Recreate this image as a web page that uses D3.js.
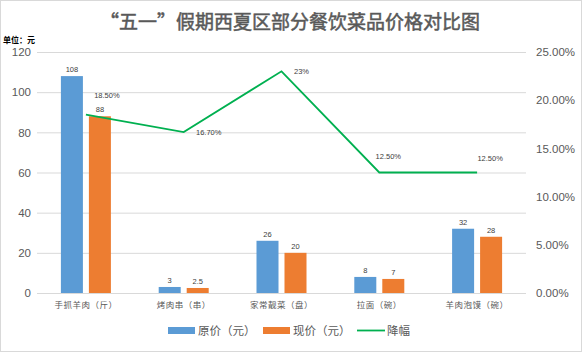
<!DOCTYPE html>
<html><head><meta charset="utf-8">
<script src="https://cdn.jsdelivr.net/npm/d3@7/dist/d3.min.js"></script>
<style>body{margin:0;background:#fff}svg{display:block}</style>
</head><body>
<script>
const categories = ["手抓羊肉（斤）","烤肉串（串）","家常靓菜（盘）","拉面（碗）","羊肉泡馍（碗）"];
const originalPrice = [108, 3, 26, 8, 32];
const currentPrice = [88, 2.5, 20, 7, 28];
const dropRate = [0.185, 0.167, 0.23, 0.125, 0.125];
const dropLabels = ["18.50%","16.70%","23%","12.50%","12.50%"];
const seriesNames = ["原价（元）","现价（元）","降幅"];
const leftTicks = [0,20,40,60,80,100,120];
const rightTicks = [0,0.05,0.10,0.15,0.20,0.25];

const W=582,H=352;
const svg=d3.select("body").append("svg").attr("width",W).attr("height",H);
svg.append("rect").attr("x",0.5).attr("y",0.5).attr("width",W-1).attr("height",H-1).attr("fill","#fff").attr("stroke","#d9d9d9");

const cjk='"Noto Sans CJK SC","Noto Sans",sans-serif';
const num='"Liberation Sans",Arial,sans-serif';
const plot={l:37,r:526,t:52,b:293};
const x=d3.scaleBand().domain(categories).range([plot.l,plot.r]).paddingInner(0).paddingOuter(0);
const yL=d3.scaleLinear().domain([0,120]).range([plot.b,plot.t]);
const yR=d3.scaleLinear().domain([0,0.25]).range([plot.b,plot.t]);
const bw=x.bandwidth();
const xs=d3.scaleBand().domain([0,1]).range([bw/2-25,bw/2+25]).paddingInner(0.214).paddingOuter(0);

// title
svg.append("text").attr("x",290).attr("y",29).attr("text-anchor","middle")
  .attr("font-family",cjk).attr("font-size",19).attr("font-weight","normal").attr("fill","#595959")
  .attr("stroke","#595959").attr("stroke-width",0.5)
  .text("“五一”假期西夏区部分餐饮菜品价格对比图");
svg.append("text").attr("x",3).attr("y",43).attr("font-family",cjk).attr("font-size",8).attr("font-weight","bold").attr("fill","#000").text("单位：元");

// gridlines
svg.append("g").selectAll("line").data(leftTicks).join("line")
  .attr("x1",plot.l).attr("x2",plot.r).attr("y1",d=>yL(d)+0.5).attr("y2",d=>yL(d)+0.5)
  .attr("stroke","#d9d9d9").attr("stroke-width",1);

// left axis
const gl=svg.append("g").attr("transform",`translate(${plot.l-6},0)`)
  .call(d3.axisLeft(yL).tickValues(leftTicks).tickSize(0).tickPadding(0));
gl.select(".domain").remove();
gl.selectAll("text").attr("font-family",num).attr("font-size",11.5).attr("fill","#595959");
// right axis
const gr=svg.append("g").attr("transform",`translate(${plot.r+10},0)`)
  .call(d3.axisRight(yR).tickValues(rightTicks).tickSize(0).tickPadding(0).tickFormat(d3.format(".2%")));
gr.select(".domain").remove();
gr.selectAll("text").attr("font-family",num).attr("font-size",11.5).attr("fill","#595959");

// category labels
svg.append("g").selectAll("text").data(categories).join("text")
  .attr("x",d=>x(d)+bw/2).attr("y",308).attr("text-anchor","middle")
  .attr("font-family",cjk).attr("font-size",8.5).attr("fill","#595959").attr("letter-spacing",0.5).text(d=>d);

const colors=["#5B9BD5","#ED7D31","#00B050"];
const series=[originalPrice,currentPrice];
series.forEach((vals,si)=>{
  const g=svg.append("g");
  g.selectAll("rect").data(vals).join("rect")
    .attr("x",(d,i)=>x(categories[i])+xs(si)).attr("width",xs.bandwidth())
    .attr("y",d=>yL(d)).attr("height",d=>yL(0)-yL(d)).attr("fill",colors[si]);
  g.selectAll("text").data(vals).join("text")
    .attr("x",(d,i)=>x(categories[i])+xs(si)+xs.bandwidth()/2).attr("y",d=>yL(d)-4)
    .attr("text-anchor","middle").attr("font-family",num).attr("font-size",7.5).attr("fill","#404040").text(d=>d);
});

// line
const line=d3.line().x((d,i)=>x(categories[i])+bw/2).y(d=>yR(d));
svg.append("path").datum(dropRate).attr("d",line).attr("fill","none").attr("stroke",colors[2]).attr("stroke-width",1.8);
const labelOffsets=[[21,-19.5],[25,0],[20,0],[9,-16],[13,-14]];
svg.append("g").selectAll("text").data(dropRate).join("text")
  .attr("x",(d,i)=>x(categories[i])+bw/2+labelOffsets[i][0]).attr("y",(d,i)=>yR(d)+labelOffsets[i][1])
  .attr("dy","0.35em").attr("text-anchor","middle").attr("font-family",num).attr("font-size",7.5).attr("fill","#404040")
  .text((d,i)=>dropLabels[i]);

// legend
const lg=svg.append("g");
const items=[{x:168,type:"rect"},{x:263,type:"rect"},{x:357,type:"line"}];
items.forEach((it,i)=>{
  if(it.type==="rect") lg.append("rect").attr("x",it.x).attr("y",327).attr("width",27).attr("height",7).attr("fill",colors[i]);
  else lg.append("line").attr("x1",it.x).attr("x2",it.x+28).attr("y1",330.5).attr("y2",330.5).attr("stroke",colors[i]).attr("stroke-width",1.8);
  lg.append("text").attr("x",it.x+30).attr("y",330.5).attr("dy","0.35em").attr("font-family",cjk).attr("font-size",11.5).attr("fill","#595959").text(seriesNames[i]);
});
</script>
</body></html>
